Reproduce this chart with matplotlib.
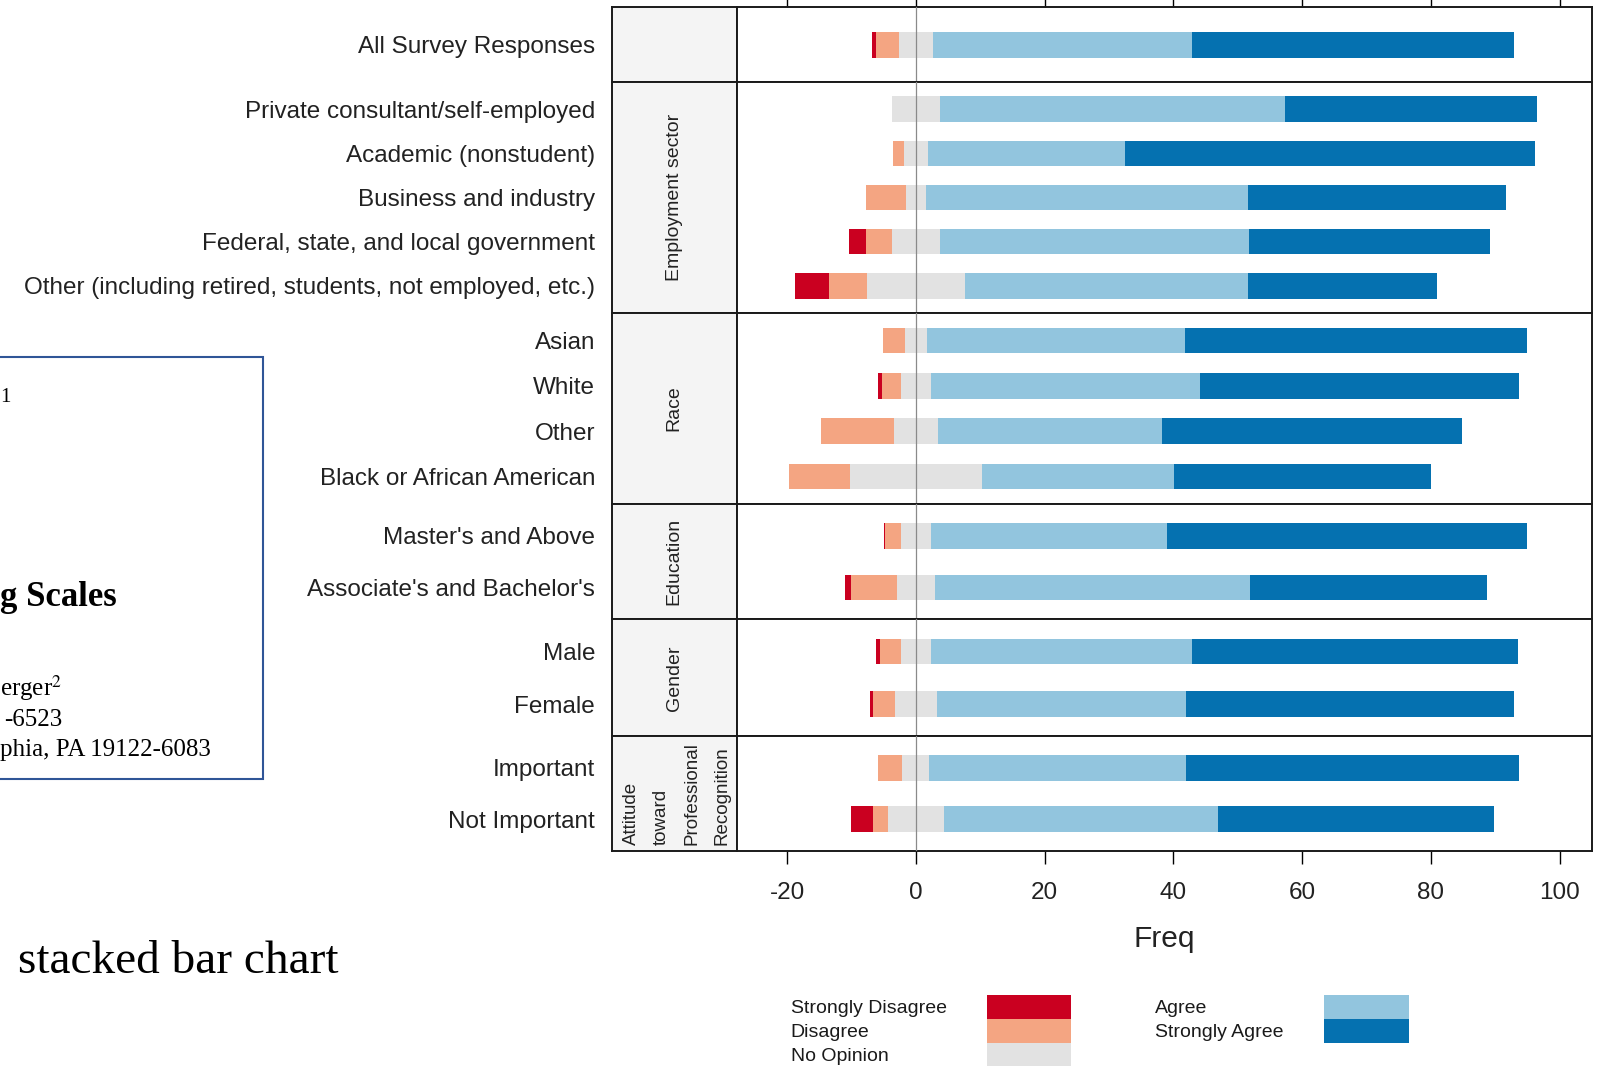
import matplotlib
matplotlib.use("Agg")
import matplotlib.pyplot as plt
from matplotlib.patches import Rectangle
import numpy as np

plt.rcParams['font.family'] = ['Liberation Sans', 'DejaVu Sans']
plt.rcParams['mathtext.fontset'] = 'stix'
plt.rcParams['axes.unicode_minus'] = False

# panels (strip name) and their rows, top to bottom
group_names = ["", "Employment sector", "Race", "Education", "Gender",
               "Attitude\ntoward\nProfessional\nRecognition"]
group_rows = [
    ["All Survey Responses"],
    ["Private consultant/self-employed", "Academic (nonstudent)",
     "Business and industry", "Federal, state, and local government",
     "Other (including retired, students, not employed, etc.)"],
    ["Asian", "White", "Other", "Black or African American"],
    ["Master's and Above", "Associate's and Bachelor's"],
    ["Male", "Female"],
    ["Important", "Not Important"],
]

# percent of responses, same row order as above
strongly_disagree = [0.6, 0, 0, 0, 2.6, 5.3, 0, 0.5, 0, 0, 0.2, 0.9, 0.6, 0.4, 0, 3.4]
disagree = [3.5, 0, 1.8, 6.3, 4.1, 5.9, 3.3, 3.0, 11.4, 9.5, 2.4, 7.1, 3.2, 3.4, 3.8, 2.4]
no_opinion = [5.4, 7.6, 3.6, 3.0, 7.4, 15.1, 3.5, 4.7, 6.7, 20.5, 4.7, 5.9, 4.7, 6.6, 4.2, 8.7]
agree = [40.2, 53.6, 30.6, 50.0, 48.0, 44.1, 40.0, 41.7, 34.9, 29.8, 36.7, 49.0, 40.6, 38.7, 39.9, 42.5]
strongly_agree = [50.0, 39.1, 63.8, 40.2, 37.5, 29.3, 53.2, 49.7, 46.6, 40.0, 55.9, 36.8, 50.5, 50.9, 51.7, 43.0]

levels = ["Strongly Disagree", "Disagree", "No Opinion", "Agree", "Strongly Agree"]
colors = ['#CA0020', '#F4A582', '#E2E2E2', '#92C5DE', '#0571B0']
x_ticks = [-20, 0, 20, 40, 60, 80, 100]

W, H = 1597, 1068
fig = plt.figure(figsize=(W / 100, H / 100), dpi=100)

def fx(x):
    return x / W

def fy(y):
    return 1 - y / H

# likert layout: neutral split around zero
sd = np.array(strongly_disagree); d = np.array(disagree); no = np.array(no_opinion)
a = np.array(agree); sa = np.array(strongly_agree)
widths = [sd, d, no, a, sa]
lefts = [-(no / 2 + d + sd), -(no / 2 + d), -no / 2, no / 2, no / 2 + a]

panel_px = [75, 230.4, 191.5, 115.1, 117.1, 114.1]
gs = fig.add_gridspec(6, 2, left=fx(611.7), right=fx(1591.9), top=fy(7.3), bottom=fy(850.5),
                      width_ratios=[125, 855.2], height_ratios=panel_px, hspace=0, wspace=0)

start = 0
for k, rows in enumerate(group_rows):
    n = len(rows)
    sax = fig.add_subplot(gs[k, 0])
    pax = fig.add_subplot(gs[k, 1], sharey=sax)
    idx = slice(start, start + n)
    start += n
    y = np.arange(n)
    lim = (0.5, -0.5) if n == 1 else (n - 1 + 0.61, -0.61)
    sax.set_ylim(lim)
    h_px = pax.get_position().height * H
    bh = 25.5 * abs(lim[0] - lim[1]) / h_px
    for j in range(5):
        pax.barh(y, widths[j][idx], left=lefts[j][idx], height=bh, color=colors[j], lw=0, zorder=2)
    pax.axvline(0, color='#8a8a8a', lw=0.9, zorder=3)
    pax.set_xlim(-27.85, 105.0)
    pax.set_xticks(x_ticks)
    pax.tick_params(axis='y', left=False, labelleft=False)
    if k == 0:
        pax.tick_params(axis='x', top=True, bottom=False, labelbottom=False, labeltop=False,
                        direction='out', length=9.5, width=1)
    elif k == len(group_rows) - 1:
        pax.tick_params(axis='x', bottom=True, labelbottom=True, direction='out', length=9.5,
                        width=1, pad=13.5, labelsize=17.5, labelcolor='#222222')
        pax.set_xlabel("Freq", fontsize=21.5, labelpad=15, color='#222222')
    else:
        pax.tick_params(axis='x', bottom=False, labelbottom=False)

    sax.set_facecolor('#F4F4F4')
    sax.set_xticks([])
    sax.set_yticks(y)
    sax.set_yticklabels(rows)
    sax.tick_params(axis='y', length=0, pad=12, labelsize=17.5, labelcolor='#222222')
    if k == len(group_rows) - 1:
        sax.text(0.52, 0.5, group_names[k], rotation=90, transform=sax.transAxes, ha='center',
                 va='center', multialignment='left', fontsize=13.5, linespacing=2.0,
                 clip_on=True, color='#222222')
    else:
        sax.text(0.5, 0.5, group_names[k], rotation=90, transform=sax.transAxes, ha='center',
                 va='center', fontsize=14, color='#222222')
    for ax in (sax, pax):
        for s in ax.spines.values():
            s.set_linewidth(1.4)
            s.set_color('#1a1a1a')

# key: two columns, label on the left, colour block on the right
key_cols = [(790.8, 986.6, 84.6, [0, 1, 2]), (1155.0, 1323.6, 85.8, [3, 4])]
row_h = 23.8
for text_x, box_x, box_w, members in key_cols:
    for r, j in enumerate(members):
        top = 995 + r * row_h
        fig.add_artist(Rectangle((fx(box_x), fy(top + row_h)), box_w / W, row_h / H,
                                 transform=fig.transFigure, facecolor=colors[j], edgecolor='none'))
        fig.text(fx(text_x), fy(top + row_h / 2 + 2), levels[j], fontsize=14, va='center',
                 ha='left', color='#1a1a1a')

# document page behind the chart
fig.add_artist(Rectangle((fx(-5), fy(779)), fx(267.7), (779 - 356.7) / H, transform=fig.transFigure,
                         fill=False, edgecolor='#2F5597', lw=1.5))
serif = ['Liberation Serif', 'DejaVu Serif']
fig.text(fx(0), fy(398), "1", family=serif, fontsize=15, va='center')
fig.text(fx(0), fy(597), "g Scales", family=serif, fontsize=25, weight='bold', va='center')
fig.text(fx(0), fy(688), r"erger$^{2}$", family=serif, fontsize=18, va='center')
fig.text(fx(4), fy(720), "-6523", family=serif, fontsize=18, va='center')
fig.text(fx(0), fy(750), "phia, PA 19122-6083", family=serif, fontsize=18, va='center')
fig.text(fx(18), fy(962), "stacked bar chart", family=serif, fontsize=34, va='center')

fig.savefig("out.png", dpi=100)
